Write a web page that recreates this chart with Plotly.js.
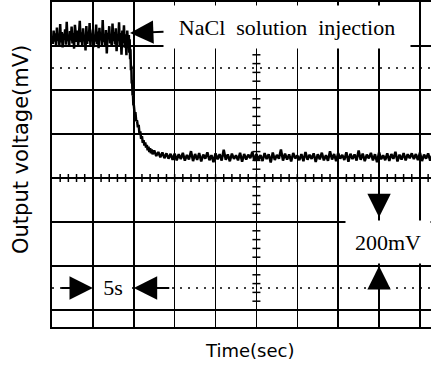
<!DOCTYPE html>
<html>
<head>
<meta charset="utf-8">
<script src="https://cdn.plot.ly/plotly-3.0.1.min.js"></script>
<style>html,body{margin:0;padding:0;background:#fff;}#chart{width:431px;height:367px;}</style>
</head>
<body>
<div id="chart"></div>
<script>
// ---- data (time in s, output voltage in mV) ----
// level before injection, sampled every 0.1 s starting at 0 s
const highStart = 0;
const highStep = 0.1;
const highValues = [
  1240,1210,1270,1220,1258,1200,1284,1224,1252,1204,
  1300,1216,1263,1193,1256,1229,1276,1206,1310,1222,
  1250,1197,1268,1225,1288,1212,1259,1188,1296,1231,
  1219,1270,1202,1254,1314,1218,1262,1199,1280,1227,
  1248,1180,1291,1210,1265,1222,1304,1203,1256,1230,
  1275,1195,1252,1220,1298,1208,1266,1190,1283,1226,
  1257,1205,1318,1218,1251,1201,1272,1166,1260,1232,
  1290,1212,1254,1196,1302,1222,1263,1207,1280,1176,
  1250,1224,1308,1202,1259,1160,1270,1214,1294,1192,
  1253,1158,1270,1208
];
// falling edge after the NaCl injection
const dropTimes = [9.4,9.45,9.5,9.55,9.6,9.65,9.7,9.75,9.8,9.85,9.9,9.95,10.0,10.1,10.2,10.3,10.4,10.5,10.6,10.7,10.8,10.9,11.0,11.1,11.2,11.3,11.4,11.5,11.6,11.7,11.8,11.9,12.0,12.1,12.2,12.3,12.4];
const dropValues = [1250,1170,1230,1140,1185,1090,1110,1030,1045,975,985,930,935,895,900,858,862,830,842,800,812,778,790,760,772,748,762,738,750,726,742,718,735,712,730,708,724];
// settled level, sampled every 0.25 s starting at 12.5 s
const lowStart = 12.5;
const lowStep = 0.25;
const lowValues = [
  725,700,718,694,716,690,712,688,710,683,
  711,680,708,686,714,679,705,684,722,677,
  709,682,713,675,706,688,717,681,704,672,
  712,685,708,679,728,683,707,676,711,687,
  703,680,715,674,709,684,706,690,719,678,
  710,683,704,677,713,686,708,671,716,682,
  705,688,730,679,711,684,707,675,714,689,
  702,681,709,676,718,683,706,687,712,673,
  708,685,715,680,704,678,721,684,709,676,
  713,688,705,682,717,674,710,686,707,679,
  725,683,711,677,706,689,714,680,708,672,
  716,685,703,681,712,678,709,687,719,675,
  706,684,713,680,708,690,712,686,709,681,
  715,677,706,688,712,679,704
];
const labels = {
  injection: "NaCl\u2002solution\u2002injection",
  timeDiv: "5s",
  voltDiv: "200mV",
  xTitle: "Time(sec)",
  yTitle: "Output voltage(mV)"
};

// ---- build trace ----
const t = [], v = [];
highValues.forEach((val, i) => { t.push(+(highStart + i * highStep).toFixed(3)); v.push(val); });
dropValues.forEach((val, i) => { t.push(dropTimes[i]); v.push(val); });
lowValues.forEach((val, i) => { t.push(+(lowStart + i * lowStep).toFixed(3)); v.push(val); });

const trace = {
  x: t, y: v, type: 'scatter', mode: 'lines',
  line: { color: '#000', width: 2.5 },
  hoverinfo: 'skip', showlegend: false
};

// ---- graticule: dotted 10%/90% lines and minor ticks on centre lines ----
const xMax = 46.35, yMin = -77.3, yMax = 1400;
const shapes = [];
[1100, 100].forEach(lv => shapes.push({
  type: 'line', xref: 'x', yref: 'y', x0: 0, x1: xMax, y0: lv, y1: lv,
  line: { color: '#000', width: 1.5, dash: '2px,6px' }, layer: 'below'
}));
for (let s = 1; s < xMax; s++) {
  shapes.push({ type: 'line', xref: 'x', yref: 'y', ysizemode: 'pixel', yanchor: 600,
    x0: s, x1: s, y0: -4, y1: 4, line: { color: '#000', width: 1.5 } });
}
for (let m = 40; m < yMax; m += 40) {
  shapes.push({ type: 'line', xref: 'x', yref: 'y', xsizemode: 'pixel', xanchor: 25,
    y0: m, y1: m, x0: -4, x1: 4, line: { color: '#000', width: 1.5 } });
}

const serif = { family: 'Liberation Serif, Times New Roman, serif', size: 22, color: '#000' };
const sans = { family: 'DejaVu Sans, sans-serif', color: '#000' };
const arrowStyle = { showarrow: true, arrowhead: 2, arrowsize: 2.6, arrowwidth: 1.8, arrowcolor: '#000', standoff: 0 };

const annotations = [
  Object.assign({ text: labels.injection, xref: 'x', yref: 'y', x: 9.54, y: 1259,
    axref: 'pixel', ayref: 'pixel', ax: 157, ay: -6,
    width: 240, height: 36, borderpad: 3, bgcolor: '#fff', font: serif }, arrowStyle),
  { text: labels.timeDiv, xref: 'x', yref: 'y', x: 7.5, y: 100, showarrow: false,
    bgcolor: '#fff', width: 30, borderpad: 0, font: serif },
  Object.assign({ text: '', xref: 'x', yref: 'y', x: 5, y: 100, ax: -33, ay: 0 }, arrowStyle),
  Object.assign({ text: '', xref: 'x', yref: 'y', x: 10, y: 100, ax: 37, ay: 0 }, arrowStyle),
  { text: labels.voltDiv, xref: 'x', yref: 'y', x: 41.08, y: 309, showarrow: false,
    bgcolor: '#fff', width: 82, height: 40, borderpad: 1, font: serif },
  Object.assign({ text: '', xref: 'x', yref: 'y', x: 40, y: 422, ax: 0, ay: -33 }, arrowStyle),
  Object.assign({ text: '', xref: 'x', yref: 'y', x: 40, y: 200, ax: 0, ay: 30 }, arrowStyle),
  { text: labels.yTitle, xref: 'paper', yref: 'paper', x: -0.0818, y: 0.5477,
    textangle: -90, showarrow: false, xanchor: 'center', yanchor: 'middle',
    font: Object.assign({ size: 21 }, sans) },
  { text: labels.xTitle, xref: 'paper', yref: 'paper', x: 0.5224, y: -0.0738,
    showarrow: false, xanchor: 'center', yanchor: 'middle',
    font: Object.assign({ size: 18 }, sans) }
];

const layout = {
  width: 431, height: 367,
  margin: { l: 52, r: 0, t: 2, b: 40, pad: 0 },
  paper_bgcolor: '#fff', plot_bgcolor: '#fff',
  showlegend: false,
  xaxis: { range: [0, xMax], tick0: 0, dtick: 5, showgrid: true, gridcolor: '#000', gridwidth: 1.5,
    showline: true, linecolor: '#000', linewidth: 2, mirror: true, ticks: '',
    showticklabels: false, zeroline: false, fixedrange: true },
  yaxis: { range: [yMin, yMax], tick0: 0, dtick: 200, showgrid: true, gridcolor: '#000', gridwidth: 1.5,
    showline: true, linecolor: '#000', linewidth: 2, mirror: false, ticks: '',
    showticklabels: false, zeroline: false, fixedrange: true },
  shapes: shapes,
  annotations: annotations
};

Plotly.newPlot('chart', [trace], layout, { displayModeBar: false, staticPlot: true });
</script>
</body>
</html>
